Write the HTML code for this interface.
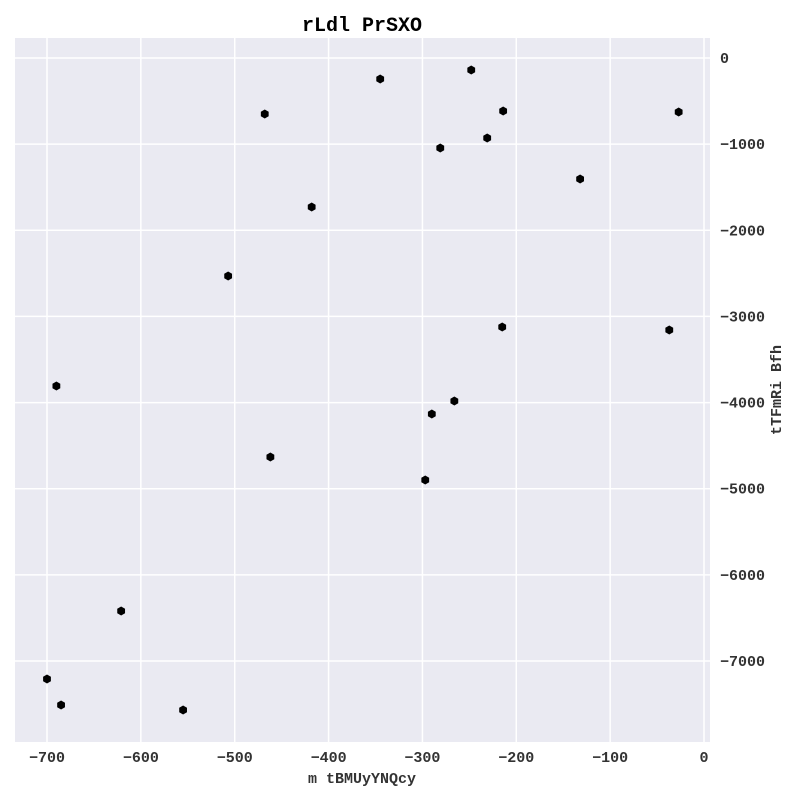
<!DOCTYPE html>
<html><head><meta charset="utf-8"><style>
body{margin:0;background:#fff;}
svg text{font-family:"Liberation Mono",monospace;font-weight:bold;fill:#333;}
</style></head><body>
<svg width="800" height="800">
<text x="362" y="31" text-anchor="middle" font-size="20" style="fill:#000">rLdl PrSXO</text>
<rect x="15" y="38" width="695" height="704" fill="#eaeaf2"/>
<g id="grid"></g><g id="pts"></g><g id="ticks"></g>
<text x="362" y="783" text-anchor="middle" font-size="15">m tBMUyYNQcy</text>
<text transform="translate(781,390) rotate(-90)" text-anchor="middle" font-size="15">tTFmRi Bfh</text>
</svg>
<script>
const xValues=[-700,-690,-685,-621,-555,-507,-468,-462,-418,-345,-297,-290,-281,-266,-248,-231,-215,-214,-132,-37,-27];
const yValues=[-7209,-3808,-7511,-6420,-7569,-2531,-650,-4632,-1730,-244,-4899,-4133,-1045,-3982,-139,-929,-3123,-615,-1405,-3158,-627];
const xTicks=[-700,-600,-500,-400,-300,-200,-100,0];
const yTicks=[0,-1000,-2000,-3000,-4000,-5000,-6000,-7000];
const NS="http://www.w3.org/2000/svg";
const sx=v=>704+v*(657/700);
const sy=v=>58-v*(603/7000);
const grid=document.getElementById('grid'),ticks=document.getElementById('ticks'),pts=document.getElementById('pts');
function mk(tag,attrs,parent){const e=document.createElementNS(NS,tag);for(const k in attrs)e.setAttribute(k,attrs[k]);parent.appendChild(e);return e;}
xTicks.forEach(t=>{
 const l=mk('line',{x1:sx(t),x2:sx(t),y1:38,y2:742,stroke:'#fff','stroke-width':1.5},grid);
 
 
 const tx=mk('text',{x:sx(t),y:762,'text-anchor':'middle','font-size':15},ticks);
 tx.textContent=t<0?'\u2212'+(-t):String(t);
 
 
});
yTicks.forEach(t=>{
 const l=mk('line',{x1:15,x2:710,y1:sy(t),y2:sy(t),stroke:'#fff','stroke-width':1.5},grid);
 
 
 const tx=mk('text',{x:720,y:sy(t)+5,'font-size':15},ticks);
 tx.textContent=t<0?'\u2212'+(-t):String(t);
 
 
});
xValues.forEach((xv,i)=>{
 const cx=sx(xv),cy=sy(yValues[i]),r=4.5;let p=[];
 for(let k=0;k<6;k++){const a=Math.PI/3*k+Math.PI/6;p.push((cx+r*Math.cos(a)).toFixed(2)+','+(cy+r*Math.sin(a)).toFixed(2));}
 const h=mk('polygon',{points:p.join(' '),fill:'#000'},pts);
 
 
});
</script>
</body></html>
